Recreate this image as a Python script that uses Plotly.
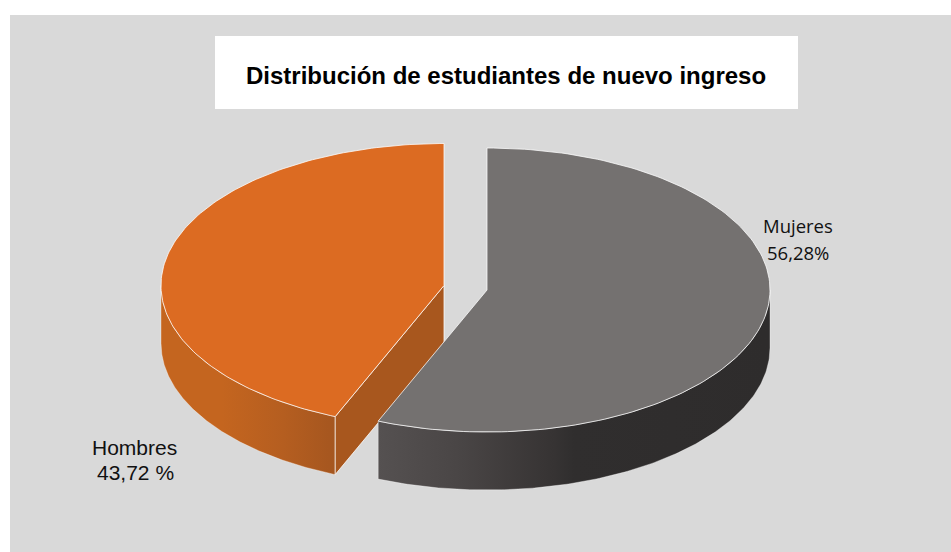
import numpy as np
import plotly.graph_objects as go

# Data
categories = ["Mujeres", "Hombres"]
shares = [56.28, 43.72]
share_labels = ["56,28%", "43,72 %"]
title_text = "Distribución de estudiantes de nuevo ingreso"

# Pixel-based drawing space
W, H = 951, 552
RX, RY = 283, 142
DEPTH = 58
CENTRES = {"Mujeres": (487, 290), "Hombres": (444, 285.5)}
TOP = {"Mujeres": "#747170", "Hombres": "#dc6b22"}
EDGE = "rgba(255,255,255,0.75)"

split = shares[0] / sum(shares) * 2 * np.pi


def rim(c, t0, t1, dy=0, n=160):
    t = np.linspace(t0, t1, n)
    return c[0] + RX * np.sin(t), c[1] - RY * np.cos(t) + dy


def poly(x, y, **kw):
    return go.Scatter(x=list(x) + [x[0]], y=list(y) + [y[0]], mode="lines", fill="toself",
                      hoverinfo="skip", showlegend=False, **kw)


def wall(c, t0, t1, colorscale):
    x1, y1 = rim(c, t0, t1)
    x2, y2 = rim(c, t1, t0, DEPTH)
    return poly(np.r_[x1, x2], np.r_[y1, y2], line=dict(color="rgba(255,255,255,0.35)", width=1),
                fillgradient=dict(type="horizontal", colorscale=colorscale))


fig = go.Figure()

# Hombres slice (wall, cut face, top)
ch = CENTRES["Hombres"]
fig.add_trace(wall(ch, split, 1.5 * np.pi, [[0, "#c4651f"], [0.35, "#c4651f"], [0.7, "#b55e20"], [1, "#a5561f"]]))
ex, ey = rim(ch, split, split, n=1)
fig.add_trace(poly([ch[0], ex[0], ex[0], ch[0]], [ch[1], ey[0], ey[0] + DEPTH, ch[1] + DEPTH],
                   fillcolor="#a8571e", line=dict(color=EDGE, width=1)))
x, y = rim(ch, split, 2 * np.pi)
fig.add_trace(poly(np.r_[ch[0], x], np.r_[ch[1], y], fillcolor=TOP["Hombres"], line=dict(color=EDGE, width=1)))

# Mujeres slice (wall, top)
cm = CENTRES["Mujeres"]
fig.add_trace(wall(cm, 0.5 * np.pi, split, [[0, "#555151"], [0.2, "#4a4646"], [0.45, "#363333"], [0.5, "#302e2e"], [1, "#2e2c2c"]]))
x, y = rim(cm, 0, split)
fig.add_trace(poly(np.r_[cm[0], x], np.r_[cm[1], y], fillcolor=TOP["Mujeres"], line=dict(color=EDGE, width=1)))

# Texts
label_pos = {"Mujeres": (798, 225, 252, "Open Sans", 18.5, 798), "Hombres": (134, 447, 472, "Liberation Sans", 21, 135)}
annotations = [dict(x=506, y=75, text=f"<b>{title_text}</b>", showarrow=False,
                    font=dict(family="Liberation Sans", size=24, color="#000000"))]
for cat, lab in zip(categories, share_labels):
    cx, y1, y2, fam, size, cx2 = label_pos[cat]
    annotations.append(dict(x=cx, y=y1, text=cat, showarrow=False, font=dict(family=fam, size=size, color="#111111")))
    annotations.append(dict(x=cx2, y=y2, text=lab, showarrow=False, font=dict(family=fam, size=size, color="#111111")))

fig.update_layout(
    width=W, height=H, margin=dict(l=0, r=0, t=0, b=0), paper_bgcolor="#ffffff", plot_bgcolor="#ffffff",
    showlegend=False,
    xaxis=dict(range=[0, W], visible=False, fixedrange=True),
    yaxis=dict(range=[H, 0], visible=False, fixedrange=True),
    shapes=[
        dict(type="rect", x0=10, y0=15, x1=W, y1=H, fillcolor="#d9d9d9", line=dict(width=0), layer="below"),
        dict(type="rect", x0=215, y0=36, x1=798, y1=109, fillcolor="#ffffff", line=dict(width=0), layer="below"),
    ],
    annotations=annotations,
)
fig.write_html("out.html", config=dict(displayModeBar=False),
               post_script="document.body.style.margin='0';document.body.style.overflow='hidden';")
